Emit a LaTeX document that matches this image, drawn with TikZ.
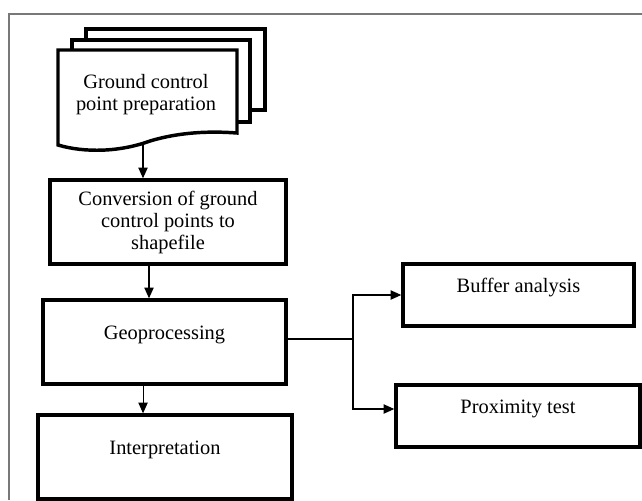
\documentclass[tikz,border=0pt]{standalone}
\usepackage{fontspec}
\setmainfont{Liberation Serif}
\definecolor{framegray}{RGB}{120,120,120}
\usetikzlibrary{arrows.meta, positioning}

\begin{document}
\begin{tikzpicture}[x=0.75pt, y=-0.75pt,
        box/.style={draw, line width=2.6pt, align=center, font=\fontsize{15.3}{16.5}\selectfont},
        raised/.style={text height=10pt, text depth=13.5pt},
        arr/.style={-{Triangle[length=8pt, width=7pt]}, line width=0.8pt}]
    \useasboundingbox (0,0) rectangle (642,500);
    \draw[framegray, line width=1.1pt] (9,500) -- (9,14) -- (642,14);

    % Ground control points: stacked documents
    \draw[line width=2.6pt, fill=white] (86,29) rectangle (265,110);
    \draw[line width=2.6pt, fill=white] (72,40) rectangle (250,122);
    \draw[line width=2.6pt, fill=white] (58,145) -- (58,50) -- (237,50) -- (237,133)
        .. controls (210,131) and (180,132) .. (150,141)
        .. controls (120,152) and (85,153) .. (58,145) -- cycle;
    \node[font=\fontsize{15.3}{16.5}\selectfont, align=center] (gcp) at (146,95) {Ground control\\point preparation};
    \coordinate (gcpbot) at (143,142);

    % Main column
    \node[box, minimum width=177pt, minimum height=63pt] (conv) at (168,222)
        {Conversion of ground\\control points to\\shapefile};
    \node[box, raised, minimum width=182.25pt, minimum height=63pt] (geo) at (164.5,342) {Geoprocessing};
    \node[box, raised, minimum width=190.5pt, minimum height=63pt] (interp) at (165,457) {Interpretation};

    % Analyses
    \node[box, raised, minimum width=173.25pt, minimum height=46.5pt] (buffer) at (518.5,295) {Buffer analysis};
    \node[box, raised, minimum width=183pt, minimum height=46.5pt] (prox) at (518,416) {Proximity test};

    \draw[arr] (gcpbot) -- (gcpbot |- conv.north);
    \draw[arr] ([xshift=-14.25pt]conv.south) -- ([xshift=-14.25pt]conv.south |- geo.north);
    \draw[arr] ([xshift=-16.1pt]geo.south) -- ([xshift=-16.1pt]geo.south |- interp.north);

    \coordinate (split) at (353,339);
    \draw[line width=0.8pt] (geo.east |- split) -- (split);
    \draw[arr] (split) |- (buffer.west);
    \draw[arr] (split) |- ([yshift=5.25pt]prox.west);
\end{tikzpicture}
\end{document}
